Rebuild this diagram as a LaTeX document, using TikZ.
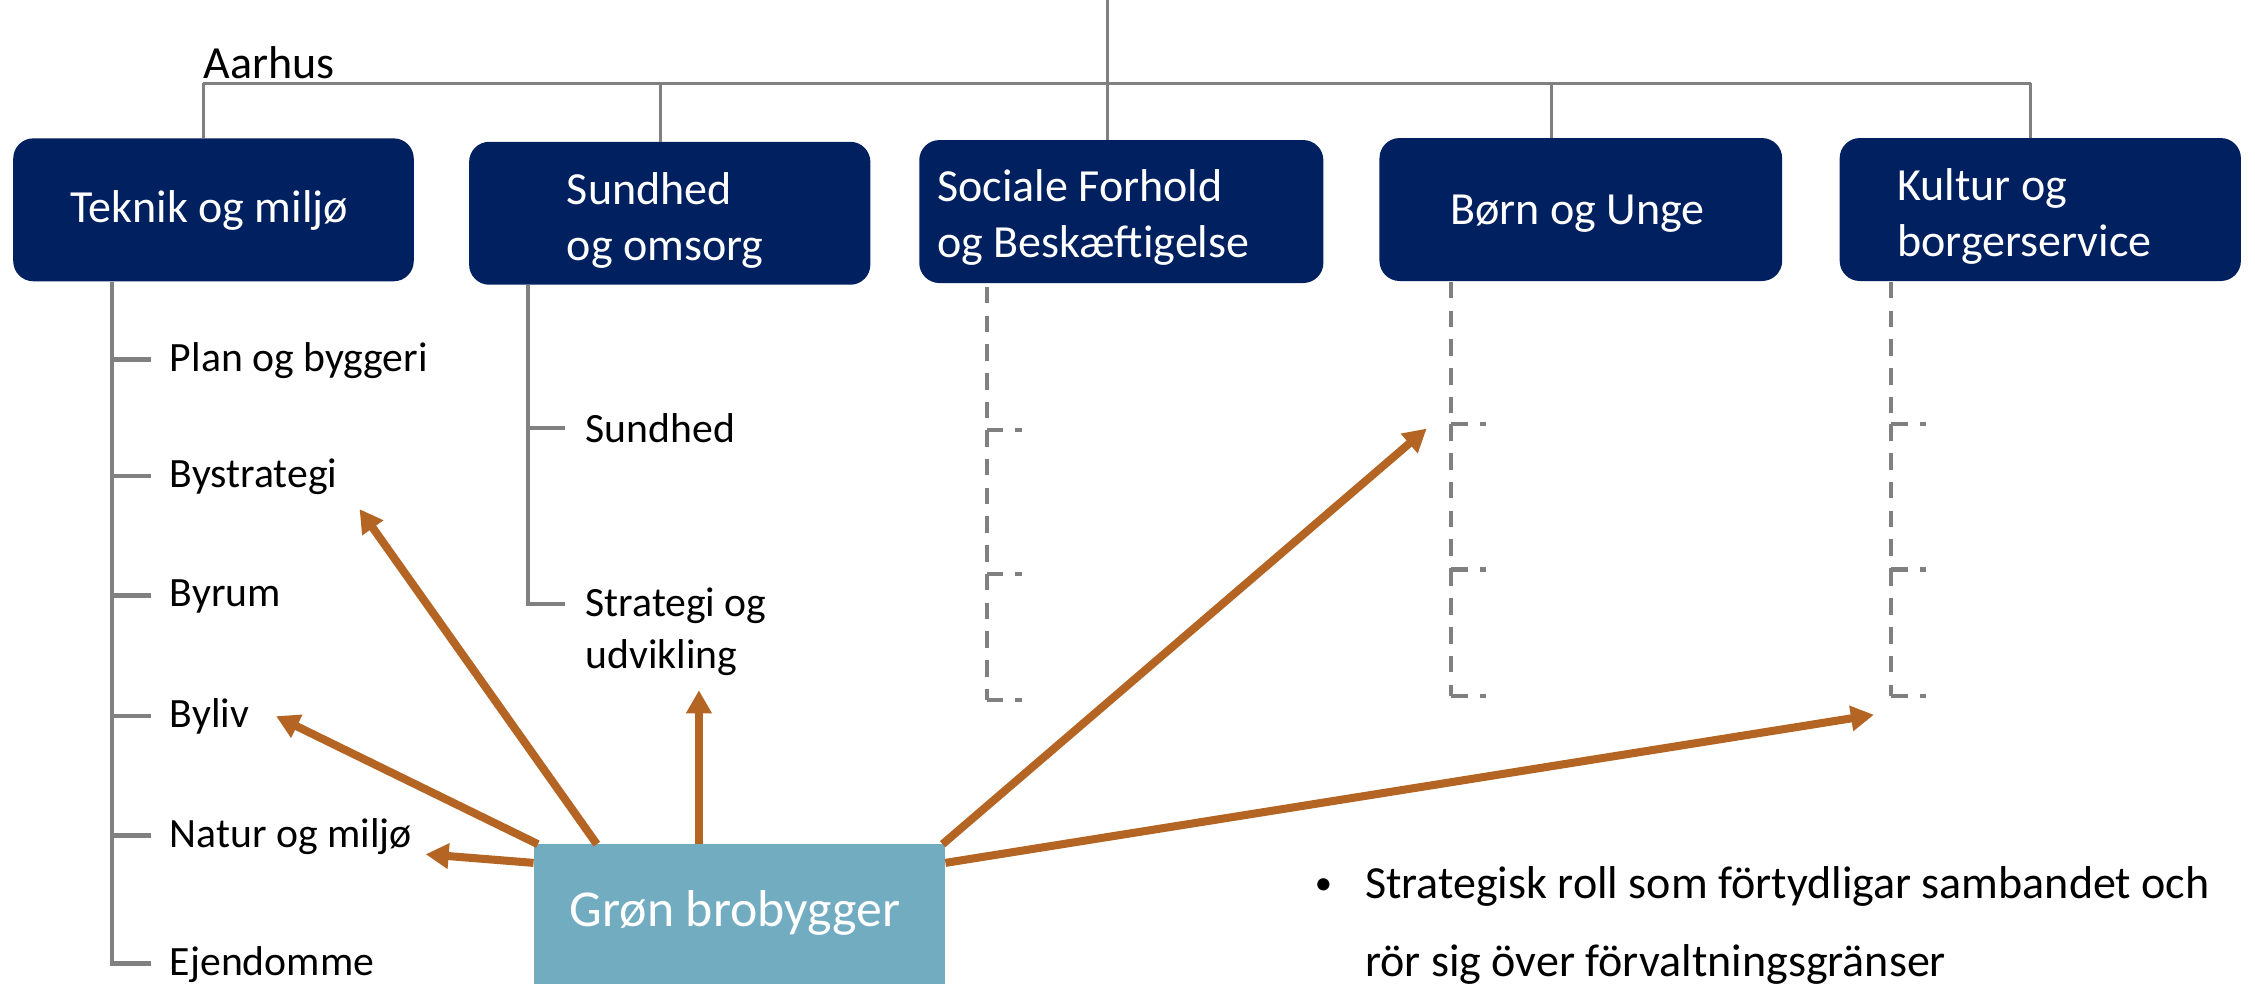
\documentclass[tikz,border=0pt]{standalone}
\usepackage{fontspec}
\setmainfont{Carlito}
\usetikzlibrary{arrows.meta}
\definecolor{navy}{RGB}{1,32,96}
\definecolor{gbfill}{RGB}{114,172,192}
\definecolor{lgray}{RGB}{128,128,128}
\definecolor{arrc}{RGB}{181,101,35}
\begin{document}
\begin{tikzpicture}[x=1pt,y=-1pt,
  navybox/.style={fill=navy, draw=none, rounded corners=14pt, inner sep=0pt, anchor=north west, minimum height=99.4pt},
  boxtxt/.style={text=white, font=\fontsize{32}{39}\selectfont, inner sep=0pt},
  sublab/.style={font=\fontsize{29}{36}\selectfont, inner sep=0pt, anchor=base west},
  gline/.style={draw=lgray, line width=3.2pt},
  busline/.style={draw=lgray, line width=2.1pt},
  dline/.style={draw=lgray, line width=2.8pt, dash pattern=on 11.5pt off 8.5pt},
  arr/.style={draw=arrc, line width=5.6pt, -{Triangle[length=16pt,width=17pt]}}
]
\useasboundingbox (0,0) rectangle (1568,684);

% top boxes
\node[navybox, minimum width=278.5pt] (b1) at (9,96) {};
\node[navybox, minimum width=279pt] (b2) at (326,98.4) {};
\node[navybox, minimum width=281pt] (b3) at (639,97.2) {};
\node[navybox, minimum width=280pt] (b4) at (959,95.8) {};
\node[navybox, minimum width=279pt] (b5) at (1279,95.8) {};

\node[boxtxt, anchor=base] (t1) at (145.5,155) {Teknik og miljø};
\node[boxtxt, anchor=base west] (t2) at (394,142) {\begin{tabular}[t]{@{}l@{}}Sundhed\\og omsorg\end{tabular}};
\node[boxtxt, anchor=base west] (t3) at (651.5,140) {\begin{tabular}[t]{@{}l@{}}Sociale Forhold\\og Beskæftigelse\end{tabular}};
\node[boxtxt, anchor=base] (t4) at (1097,156) {Børn og Unge};
\node[boxtxt, anchor=base west] (t5) at (1319,139.5) {\begin{tabular}[t]{@{}l@{}}Kultur og\\borgerservice\end{tabular}};

% bus
\coordinate (top) at (770,0);
\coordinate (busL) at (141.5,58);
\coordinate (busR) at (1412,58);
\coordinate (d2) at (459,58);
\coordinate (d4) at (1079,58);
\draw[busline] (top) -- (top |- b3.north);
\draw[busline] (busL |- b1.north) -- (busL);
\draw[busline] (busR) -- (busR |- b5.north);
\draw[draw=lgray, line width=2.6pt] (busL) -- (busR);
\draw[busline] (d2) -- (d2 |- b2.north);
\draw[busline] (d4) -- (d4 |- b4.north);
\node[font=\fontsize{32}{38}\selectfont, anchor=base west, inner sep=0pt] (aarhus) at (141.5,54.7) {Aarhus};

% Teknik tree
\draw[gline] (78,0 |- b1.south) -- (78,670) -- (105,670);
\foreach \y/\t [count=\i] in {250/Plan og byggeri, 331/Bystrategi, 414/Byrum, 498/Byliv, 581/Natur og miljø, 670/Ejendomme} {
  \draw[gline] (78,\y) -- (105,\y);
  \node[sublab] (s\i) at (118,{\y+8}) {\t};
}

% Sundhed tree
\draw[gline] (367,0 |- b2.south) -- (367,420) -- (393,420);
\draw[gline] (367,297.5) -- (393,297.5);
\node[sublab] (su1) at (407,307.5) {Sundhed};
\node[sublab] (su2) at (407,429) {\begin{tabular}[t]{@{}l@{}}Strategi og\\udvikling\end{tabular}};

% dashed trees
\foreach \x/\t/\a/\b/\c in {686/199.5/299/399/487, 1009/196/295/396/484, 1315/196/295/396/484} {
  \draw[dline] (\x,\t) -- (\x,\a);
  \draw[dline] (\x,\a) -- ({\x+24.5},\a);
  \draw[dline] (\x,\a) -- (\x,\b);
  \draw[dline] (\x,\b) -- ({\x+24.5},\b);
  \draw[dline] (\x,\b) -- (\x,\c);
  \draw[dline] (\x,\c) -- ({\x+24.5},\c);
}

% Grøn brobygger
\node[fill=gbfill, draw=none, minimum width=286pt, minimum height=130pt, anchor=north west, inner sep=0pt] (gb) at (371,587) {};
\node[text=white, font=\fontsize{36}{43}\selectfont, anchor=base, inner sep=0pt] (gbt) at (511,644) {Grøn brobygger};

\coordinate (aNatur) at (296,594);
\coordinate (aByliv) at (192,498);
\coordinate (aBystr) at (250,354);
\coordinate (aStrat) at (486,480);
\coordinate (aBorn) at (992,298);
\coordinate (aKult) at (1303,497);

\draw[arr] ([yshift=-13pt]gb.north west) -- (aNatur);
\draw[arr] ([xshift=3pt]gb.north west) -- (aByliv);
\draw[arr] ([xshift=44pt]gb.north west) -- (aBystr);
\draw[arr] ([xshift=115pt]gb.north west) -- (aStrat);
\draw[arr] ([xshift=-2pt]gb.north east) -- (aBorn);
\draw[arr] ([yshift=-13pt]gb.north east) -- (aKult);

% bullet text
\node[font=\fontsize{24}{30}\selectfont, anchor=base west, inner sep=0pt] (bul) at (914,622) {•};
\node[font=\fontsize{32}{54}\selectfont, anchor=base west, inner sep=0pt] (btxt) at (949,625) {\begin{tabular}[t]{@{}l@{}}Strategisk roll som förtydligar sambandet och\\rör sig över förvaltningsgränser\end{tabular}};
\end{tikzpicture}
\end{document}
